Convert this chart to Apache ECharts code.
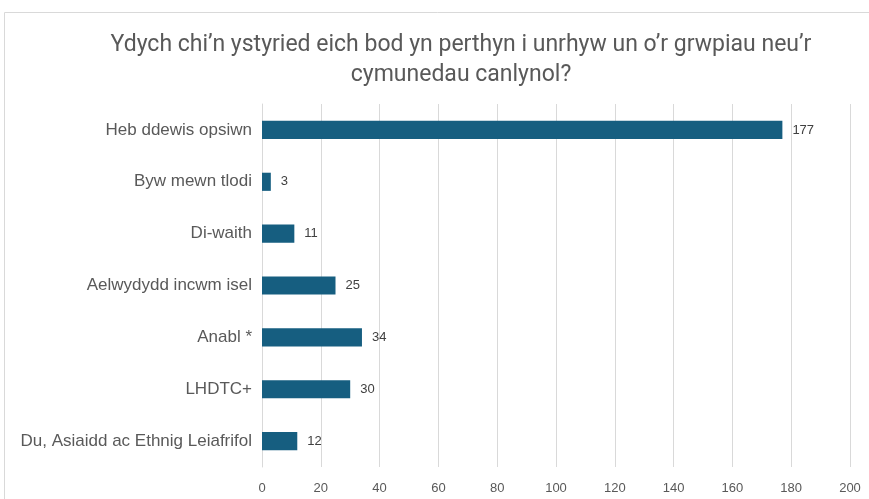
<!DOCTYPE html>
<html>
<head>
<meta charset="utf-8">
<script src="https://cdn.jsdelivr.net/npm/echarts@6/dist/echarts.min.js"></script>
<style>
  html, body { margin: 0; padding: 0; background: #fff; }
  #chart { width: 869px; height: 499px; }
</style>
</head>
<body>
<div id="chart"></div>
<script>
// categories, top to bottom as in the picture
var categories = [
  "Heb ddewis opsiwn",
  "Byw mewn tlodi",
  "Di-waith",
  "Aelwydydd incwm isel",
  "Anabl *",
  "LHDTC+",
  "Du, Asiaidd ac Ethnig Leiafrifol"
];
var values = [177, 3, 11, 25, 34, 30, 12];
var axisMax = 200;
var axisStep = 20;
var titleText = "Ydych chi’n ystyried eich bod yn perthyn i unrhyw un o’r grwpiau neu’r\ncymunedau canlynol?";

var myChart = echarts.init(document.getElementById("chart"));

var option = {
  animation: false,
  graphic: [
    {
      type: "rect",
      shape: { x: 4.5, y: 12.5, width: 900, height: 520 },
      style: { fill: "none", stroke: "#d9d9d9", lineWidth: 1 },
      silent: true
    },
    {
      // title, centred over the whole frame
      type: "text",
      x: 461,
      y: 30,
      silent: true,
      style: {
        text: titleText,
        textAlign: "center",
        fill: "#595959",
        fontFamily: "Roboto",
        fontSize: 23,
        lineHeight: 30
      }
    }
  ],
  grid: {
    left: 262,
    right: 19,
    top: 104,
    bottom: 32,
    containLabel: false
  },
  xAxis: {
    type: "value",
    min: 0,
    max: axisMax,
    interval: axisStep,
    axisLine: { show: false },
    axisTick: { show: false },
    splitLine: { show: true, lineStyle: { color: "#d9d9d9", width: 1 } },
    axisLabel: {
      color: "#595959",
      fontFamily: "Liberation Sans",
      fontSize: 13,
      margin: 15
    }
  },
  yAxis: {
    type: "category",
    inverse: true,
    data: categories,
    axisLine: { show: true, lineStyle: { color: "#d9d9d9" } },
    axisTick: { show: false },
    axisLabel: {
      color: "#595959",
      fontFamily: "Liberation Sans",
      fontSize: 17,
      margin: 10
    }
  },
  series: [
    {
      type: "bar",
      data: values,
      barWidth: "35%",
      itemStyle: { color: "#165e80" },
      label: {
        show: true,
        position: "right",
        distance: 10,
        color: "#404040",
        fontFamily: "Liberation Sans",
        fontSize: 13
      }
    }
  ]
};

myChart.setOption(option);
</script>
</body>
</html>
